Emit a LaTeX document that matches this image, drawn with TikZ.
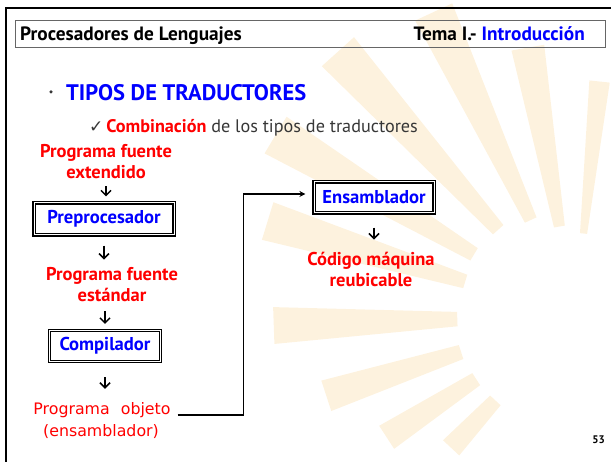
\documentclass[tikz,border=0pt]{standalone}
\usepackage{fontspec}
\setmainfont{PT Sans}
\newfontfamily\verdana{DejaVu Sans}
\usetikzlibrary{positioning, arrows.meta, calc}
\definecolor{raycolor}{RGB}{253,242,222}
\definecolor{txtgray}{RGB}{55,55,55}
\tikzset{
    % text styles
    headtxt/.style={font=\bfseries\fontsize{19.3}{21}\selectfont, inner sep=0pt},
    redtxt/.style={text=red, align=center, inner sep=0pt, font=\bfseries\fontsize{18.5}{21}\selectfont},
    objtxt/.style={text=red, inner sep=0pt, font=\verdana\fontsize{15.8}{17}\selectfont},
    % box styles
    procbox/.style={rectangle, fill=white, draw=black, line width=1.1pt, double=white,
                    double distance=1pt, text=blue, inner sep=0pt,
                    font=\bfseries\fontsize{18.6}{20}\selectfont},
    % arrow styles
    downarr/.style={-{Straight Barb[length=5pt, width=10pt]}, line width=1.5pt},
    link/.style={-{Stealth[length=6pt, width=6pt]}, line width=1.3pt},
}

\begin{document}
\begin{tikzpicture}[x=1pt, y=-1pt]
    \useasboundingbox (0,0) rectangle (611,462);

    % Sun rays behind the slide
    \coordinate (sun) at (575,315);
    \foreach \a/\ri/\ro/\h in {84/82/235/2.5, 100/90/272/3.5, 115/105/335/3.5,
                               132/115/355/3.5, 149/118/350/3.5, 163/115/322/3.5,
                               182/118/302/3.5, 198/120/262/3.5, 213/118/225/3.5,
                               227/117/182/3.5}
        \fill[raycolor] ($(sun)+(-\a-\h:\ri)$) -- ($(sun)+(-\a-\h:\ro)$)
                     -- ($(sun)+(-\a+\h:\ro)$) -- ($(sun)+(-\a+\h:\ri)$) -- cycle;

    % Slide frame and header
    \draw[line width=2.5pt] (6,462) -- (6,8) -- (611,8);
    \node[draw=gray!80!black, line width=0.8pt, minimum width=590pt, minimum height=27pt,
          anchor=north west, inner sep=0pt] (head) at (15,20) {};
    \node[headtxt, anchor=base west] (course) at (20,41) {Procesadores de Lenguajes};
    \node[headtxt, anchor=base east] (topic) at (585,41) {Tema I.- \textcolor{blue}{Introducción}};

    % Title and subtitle
    \node[anchor=base west, text=blue, inner sep=0pt, font=\bfseries\fontsize{22.5}{24}\selectfont]
        (tipos) at (66,101) {TIPOS DE TRADUCTORES};
    \node[circle, fill=txtgray, inner sep=0pt, minimum size=3.5pt] (dot) at (51,92) {};
    \node[anchor=base west, inner sep=0pt, text=txtgray, font=\fontsize{18.2}{20}\selectfont]
        (comb) at (89,133) {{\verdana\fontsize{17}{17}\selectfont ✓}\hspace{3pt}\textcolor{red}{\bfseries Combinación} de los tipos de traductores};

    % Chain of translators
    \node[redtxt] (fuenteext) at (106,162) {Programa fuente\\extendido};
    \node[procbox, minimum width=140pt, minimum height=32pt] (prepro) at (104,219) {Preprocesador};
    \node[redtxt] (fuenteest) at (112,285) {Programa fuente\\estándar};
    \node[procbox, minimum width=111pt, minimum height=31pt] (compil) at (105,346) {Compilador};
    \node[objtxt, anchor=base] (objeto) at (102,415) {Programa\hspace{0.7em}objeto};
    \node[objtxt, anchor=base] (ensam) at (101,437) {(ensamblador)};
    \node[procbox, minimum width=120pt, minimum height=31pt] (ensamblador) at (374,197.5) {Ensamblador};
    \node[redtxt] (codigo) at (371,269) {Código máquina\\reubicable};

    % Arrows
    \draw[downarr, shorten <=7pt, shorten >=6pt] (fuenteext.south) -- (fuenteext.south |- prepro.north);
    \draw[downarr, shorten <=10pt, shorten >=8pt] (prepro.south) -- (prepro.south |- fuenteest.north);
    \draw[downarr, shorten <=9pt, shorten >=6pt] (compil.north |- fuenteest.south) -- (compil.north);
    \draw[downarr, shorten <=15pt, shorten >=14pt] (compil.south) -- (compil.south |- objeto.north);
    \draw[downarr, shorten <=14pt, shorten >=12pt] (ensamblador.south) -- (ensamblador.south |- codigo.north);
    \draw[link, shorten >=8pt] ([xshift=7pt]objeto.base east) -- ++(66,0) |- ([yshift=3.5pt]ensamblador.west);

    % Page number
    \node[anchor=base east, inner sep=0pt, font=\bfseries\fontsize{11}{12}\selectfont] (pagina) at (605,444) {53};
\end{tikzpicture}
\end{document}
